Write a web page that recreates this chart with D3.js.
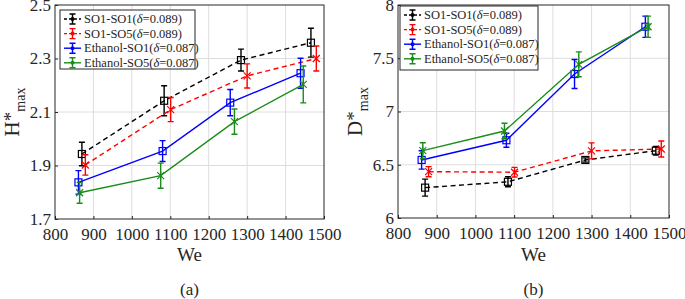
<!DOCTYPE html>
<html>
<head>
<meta charset="utf-8">
<script src="https://cdn.jsdelivr.net/npm/d3@7"></script>
<style>
  body { margin: 0; background: #fff; }
  svg text { font-family: "Liberation Serif", "DejaVu Serif", serif; fill: #262626; }
</style>
</head>
<body>
<div id="chart"></div>
<script>
// series names (legend)
const seriesNames = ["SO1-SO1", "SO1-SO5", "Ethanol-SO1", "Ethanol-SO5"]
const seriesDelta = ["0.089", "0.089", "0.087", "0.087"]

// Weber numbers per series
const weSO1SO1 = [870, 1084, 1284, 1466]
const weSO1SO5 = [879, 1101, 1300, 1480]
const weEthSO1 = [861, 1080, 1256, 1439]
const weEthSO5 = [864, 1075, 1267, 1446]

// (a) H*max and error
const hSO1SO1 = [1.943, 2.142, 2.294, 2.359]
const hSO1SO1Err = [0.044, 0.056, 0.041, 0.054]
const hSO1SO5 = [1.902, 2.109, 2.235, 2.300]
const hSO1SO5Err = [0.038, 0.045, 0.045, 0.047]
const hEthSO1 = [1.837, 1.954, 2.135, 2.245]
const hEthSO1Err = [0.044, 0.039, 0.049, 0.056]
const hEthSO5 = [1.798, 1.862, 2.064, 2.203]
const hEthSO5Err = [0.039, 0.047, 0.047, 0.069]

// (b) D*max and error
const dSO1SO1 = [6.285, 6.340, 6.545, 6.632]
const dSO1SO1Err = [0.080, 0.047, 0.020, 0.040]
const dSO1SO5 = [6.435, 6.430, 6.630, 6.648]
const dSO1SO5Err = [0.047, 0.045, 0.075, 0.075]
const dEthSO1 = [6.545, 6.730, 7.352, 7.796]
const dEthSO1Err = [0.086, 0.066, 0.136, 0.100]
const dEthSO5 = [6.632, 6.817, 7.443, 7.796]
const dEthSO5Err = [0.075, 0.073, 0.117, 0.100]

// ticks
const xTicks = [800, 900, 1000, 1100, 1200, 1300, 1400, 1500]
const hTicks = [1.7, 1.9, 2.1, 2.3, 2.5]
const dTicks = [6, 6.5, 7, 7.5, 8]

const colors = ["#000000", "#ff0000", "#0000ff", "#1a8c1a"]
const dashed = [true, true, false, false]
const markers = ["square", "x", "square", "star"]

const FONT = "'Liberation Serif', 'DejaVu Serif', serif"

const svg = d3.select("#chart").append("svg")
    .attr("width", 685)
    .attr("height", 299)
    .attr("font-family", FONT)

svg.append("rect").attr("width", 685).attr("height", 299).attr("fill", "#fff")

function drawMarker(g, type, x, y, color) {
    if (type === "square") {
        g.append("rect")
            .attr("x", x - 3.5).attr("y", y - 3.5)
            .attr("width", 7).attr("height", 7)
            .attr("fill", "none").attr("stroke", color).attr("stroke-width", 1.2)
    } else {
        let r = 3.5
        g.append("path")
            .attr("d", `M${x-r},${y-r}L${x+r},${y+r}M${x-r},${y+r}L${x+r},${y-r}` +
                (type === "star" ? `M${x},${y-r-0.5}L${x},${y+r+0.5}` : ""))
            .attr("stroke", color).attr("stroke-width", 1.2).attr("fill", "none")
    }
}

function drawPanel(p) {
    let x = d3.scaleLinear().domain([800, 1500]).range([p.left, p.right])
    let y = d3.scaleLinear().domain(p.yDomain).range([p.bottom, p.top])
    let g = svg.append("g")

    // grid
    g.selectAll(".gx").data(xTicks.slice(1, -1)).join("line")
        .attr("x1", d => x(d)).attr("x2", d => x(d))
        .attr("y1", p.top).attr("y2", p.bottom)
        .attr("stroke", "#dedede").attr("stroke-width", 1)
    g.selectAll(".gy").data(p.yTicks.slice(1, -1)).join("line")
        .attr("y1", d => y(d)).attr("y2", d => y(d))
        .attr("x1", p.left).attr("x2", p.right)
        .attr("stroke", "#dedede").attr("stroke-width", 1)

    // axes (ticks inward)
    let ax = g.append("g").attr("transform", `translate(0,${p.bottom})`)
        .call(d3.axisBottom(x).tickValues(xTicks).tickSize(-3).tickPadding(5).tickFormat(d3.format("d")))
    let ay = g.append("g").attr("transform", `translate(${p.left},0)`)
        .call(d3.axisLeft(y).tickValues(p.yTicks).tickSize(-3).tickPadding(4).tickFormat(d => String(d)))
    ;[ax, ay].forEach(a => {
        a.attr("font-family", FONT).attr("font-size", 17)
        a.select(".domain").remove()
        a.selectAll(".tick line").attr("stroke", "#262626")
        a.selectAll("text").attr("fill", "#262626")
    })
    ax.selectAll("text").attr("dy", "0.95em")

    // series
    p.series.forEach((s, i) => {
        let pts = s.we.map((w, k) => ({ w: w, v: s.v[k], e: s.e[k] }))
        let sg = g.append("g")
        sg.append("path")
            .datum(pts)
            .attr("d", d3.line().x(d => x(d.w)).y(d => y(d.v)))
            .attr("fill", "none").attr("stroke", colors[i]).attr("stroke-width", 1.4)
            .attr("stroke-dasharray", dashed[i] ? "5,3.5" : null)
        pts.forEach(d => {
            let cx = x(d.w), y1 = y(d.v + d.e), y2 = y(d.v - d.e)
            sg.append("path")
                .attr("d", `M${cx},${y1}L${cx},${y2}M${cx-3},${y1}L${cx+3},${y1}M${cx-3},${y2}L${cx+3},${y2}`)
                .attr("stroke", colors[i]).attr("stroke-width", 1.4).attr("fill", "none")
            drawMarker(sg, markers[i], cx, y(d.v), colors[i])
        })
    })

    // box
    g.append("rect")
        .attr("x", p.left).attr("y", p.top)
        .attr("width", p.right - p.left).attr("height", p.bottom - p.top)
        .attr("fill", "none").attr("stroke", "#262626").attr("stroke-width", 1)

    // legend
    let lg = g.append("g")
    lg.append("rect")
        .attr("x", p.legend.x).attr("y", p.legend.y)
        .attr("width", p.legend.w).attr("height", p.legend.h)
        .attr("fill", "#fff").attr("stroke", "#262626").attr("stroke-width", 1)
    seriesNames.forEach((name, i) => {
        let ry = p.legend.y + 9 + i * 14.6
        let lx1 = p.legend.x + 4, lx2 = p.legend.x + 21, mx = (lx1 + lx2) / 2
        lg.append("line").attr("x1", lx1).attr("x2", lx2).attr("y1", ry).attr("y2", ry)
            .attr("stroke", colors[i]).attr("stroke-width", 1.4)
            .attr("stroke-dasharray", dashed[i] ? "3,2" : null)
        lg.append("path")
            .attr("d", `M${mx},${ry-5}L${mx},${ry+5}M${mx-3},${ry-5}L${mx+3},${ry-5}M${mx-3},${ry+5}L${mx+3},${ry+5}`)
            .attr("stroke", colors[i]).attr("stroke-width", 1.4)
        lg.append("circle").attr("cx", mx).attr("cy", ry).attr("r", 2).attr("fill", colors[i])
        let t = lg.append("text")
            .attr("x", p.legend.x + 24).attr("y", ry + 4)
            .attr("font-size", 12.5).attr("fill", "#000")
        t.append("tspan").text(name + "(")
        t.append("tspan").attr("font-style", "italic").text("δ")
        t.append("tspan").text("=" + seriesDelta[i] + ")")
    })

    // x label
    let cx = (p.left + p.right) / 2
    g.append("text").attr("x", cx).attr("y", 261).attr("text-anchor", "middle")
        .attr("font-size", 19).text("We")
    g.append("text").attr("x", cx).attr("y", 295).attr("text-anchor", "middle")
        .attr("font-size", 17).attr("fill", "#000").text(p.caption)

    // y label
    let yl = g.append("text")
        .attr("transform", `translate(${p.left - 36},${(p.top + p.bottom) / 2}) rotate(-90)`)
        .attr("text-anchor", "middle")
        .attr("font-size", 21)
    yl.append("tspan").text(p.yLetter)
    yl.append("tspan").attr("dy", "-0.1em").attr("font-size", 19).text("*")
    yl.append("tspan").attr("dy", "0.55em").attr("font-size", 14).text("max")
}

drawPanel({
    left: 55, right: 324, top: 5, bottom: 219,
    yDomain: [1.7, 2.5], yTicks: hTicks, yLetter: "H", caption: "(a)",
    legend: { x: 60, y: 10, w: 135, h: 59 },
    series: [
        { we: weSO1SO1, v: hSO1SO1, e: hSO1SO1Err },
        { we: weSO1SO5, v: hSO1SO5, e: hSO1SO5Err },
        { we: weEthSO1, v: hEthSO1, e: hEthSO1Err },
        { we: weEthSO5, v: hEthSO5, e: hEthSO5Err }
    ]
})

drawPanel({
    left: 398, right: 669, top: 5, bottom: 218,
    yDomain: [6, 8], yTicks: dTicks, yLetter: "D", caption: "(b)",
    legend: { x: 400, y: 6, w: 138, h: 64 },
    series: [
        { we: weSO1SO1, v: dSO1SO1, e: dSO1SO1Err },
        { we: weSO1SO5, v: dSO1SO5, e: dSO1SO5Err },
        { we: weEthSO1, v: dEthSO1, e: dEthSO1Err },
        { we: weEthSO5, v: dEthSO5, e: dEthSO5Err }
    ]
})
</script>
</body>
</html>
